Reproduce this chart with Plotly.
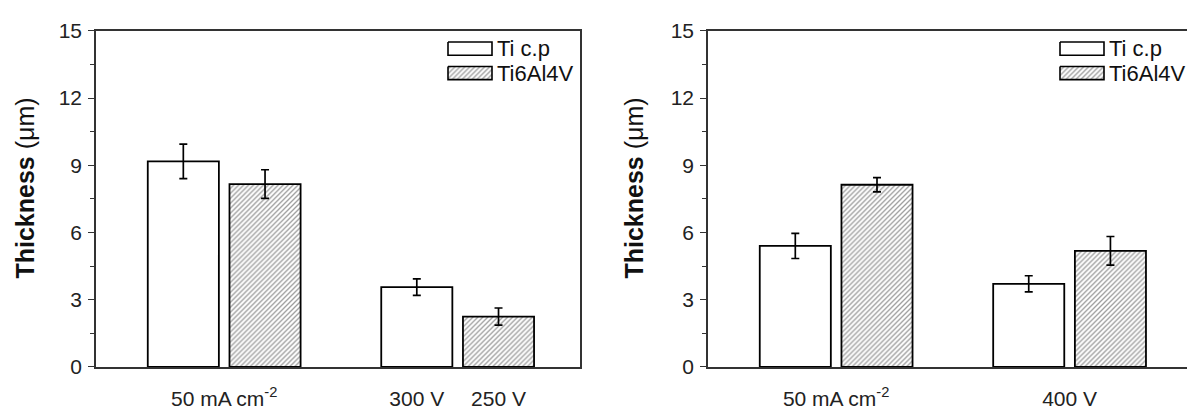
import plotly.graph_objects as go

# ---------------- data ----------------
series_names = ["Ti c.p", "Ti6Al4V"]

left_groups = [0, 1]
left_ticp = [9.17, 3.56]
left_ticp_err = [0.77, 0.37]
left_ti64 = [8.16, 2.25]
left_ti64_err = [0.64, 0.38]
left_group_label = "50 mA cm<sup>-2</sup>"
left_bar_labels = ["300 V", "250 V"]

right_groups = [0, 1]
right_ticp = [5.40, 3.71]
right_ticp_err = [0.56, 0.36]
right_ti64 = [8.13, 5.18]
right_ti64_err = [0.32, 0.64]
right_tick_labels = ["50 mA cm<sup>-2</sup>", "400 V"]

y_title_bold = "Thickness"
y_title_unit = "(μm)"

# ---------------- style ----------------
W, H = 1187, 410
FONT = "Arial, 'Liberation Sans', sans-serif"
BARGAP = 0.30
BARGROUPGAP = 0.13
slot_offset = (1 - BARGAP) / 4  # centre offset of each bar in a group

hatch = dict(shape="/", fgcolor="#3c3c3c", bgcolor="white", size=3.5, solidity=0.38)
plain = dict(color="white", line=dict(color="black", width=1.8))
hatched = dict(color="white", line=dict(color="black", width=1.8), pattern=hatch)
err_style = dict(type="data", color="black", thickness=1.7, width=4, visible=True)


def px_x(p):
    return p / W


def px_y(p):
    return (H - p) / H


fig = go.Figure()

for xa, ya, xs, a, ae, b, be in [
    ("x", "y", left_groups, left_ticp, left_ticp_err, left_ti64, left_ti64_err),
    ("x2", "y2", right_groups, right_ticp, right_ticp_err, right_ti64, right_ti64_err),
]:
    fig.add_trace(go.Bar(x=xs, y=a, name=series_names[0], marker=plain,
                         error_y=dict(array=ae, **err_style),
                         xaxis=xa, yaxis=ya, showlegend=False))
    fig.add_trace(go.Bar(x=xs, y=b, name=series_names[1], marker=hatched,
                         error_y=dict(array=be, **err_style),
                         xaxis=xa, yaxis=ya, showlegend=False))

# legend swatches drawn on a full-figure pixel overlay axis
for x0 in (448, 1060):
    for i, (nm, pat) in enumerate(zip(series_names, [None, hatch])):
        y0 = 32 + i * 26
        y1 = y0 + 14
        kw = dict(fillpattern=pat) if pat else {}
        fig.add_trace(go.Scatter(
            x=[x0, x0 + 44, x0 + 44, x0, x0], y=[y0, y0, y1, y1, y0],
            mode="lines", fill="toself", fillcolor="white",
            line=dict(color="black", width=1.6), xaxis="x3", yaxis="y3",
            showlegend=False, hoverinfo="skip", **kw))
        fig.add_annotation(x=x0 + 47, y=(y0 + y1) / 2, xref="x3", yref="y3",
                           text=nm, showarrow=False, xanchor="left", yanchor="middle",
                           font=dict(family=FONT, size=22, color="#111"))

ydom = [px_y(378), px_y(20)]
axis_common = dict(showline=True, linecolor="#333", linewidth=1.6, showgrid=False,
                   zeroline=False, tickfont=dict(family=FONT, size=21, color="#222"))
yaxis_common = dict(axis_common, range=[0, 15], tickmode="linear", tick0=0, dtick=3,
                    ticks="outside", ticklen=6, tickwidth=1.4, tickcolor="#333",
                    minor=dict(dtick=1.5, ticks="outside", ticklen=4, tickwidth=1.2,
                               tickcolor="#333"),
                    ticklabelstandoff=2)

fig.update_layout(
    width=W, height=H, margin=dict(l=0, r=0, t=0, b=0),
    paper_bgcolor="white", plot_bgcolor="rgba(0,0,0,0)",
    barmode="group", bargap=BARGAP, bargroupgap=BARGROUPGAP,
    xaxis=dict(axis_common, domain=[px_x(96), px_x(580)], range=[-0.549, 1.524],
               anchor="y", mirror=True, ticks="",
               tickmode="array",
               tickvals=[left_groups[0], left_groups[1] - slot_offset, left_groups[1] + slot_offset],
               ticktext=[left_group_label] + left_bar_labels, ticklabelstandoff=12),
    yaxis=dict(yaxis_common, domain=ydom, anchor="x", mirror=True),
    xaxis2=dict(axis_common, domain=[px_x(708), 1.0], range=[-0.549, 1.503],
                anchor="y2", mirror=True, ticks="",
                tickmode="array", tickvals=right_groups, ticktext=right_tick_labels,
                ticklabelstandoff=12),
    yaxis2=dict(yaxis_common, domain=ydom, anchor="x2", mirror=False),
    xaxis3=dict(domain=[0, 1], range=[0, W], visible=False, fixedrange=True, anchor="y3"),
    yaxis3=dict(domain=[0, 1], range=[H, 0], visible=False, fixedrange=True, anchor="x3"),
    font=dict(family=FONT),
)

for xc in (25, 634):
    fig.add_annotation(x=px_x(xc), y=px_y(188), xref="paper", yref="paper",
                       text=f"<b>{y_title_bold}</b> {y_title_unit}", textangle=-90,
                       showarrow=False, xanchor="center", yanchor="middle",
                       font=dict(family=FONT, size=25, color="#111"))

fig.write_html("out.html")
